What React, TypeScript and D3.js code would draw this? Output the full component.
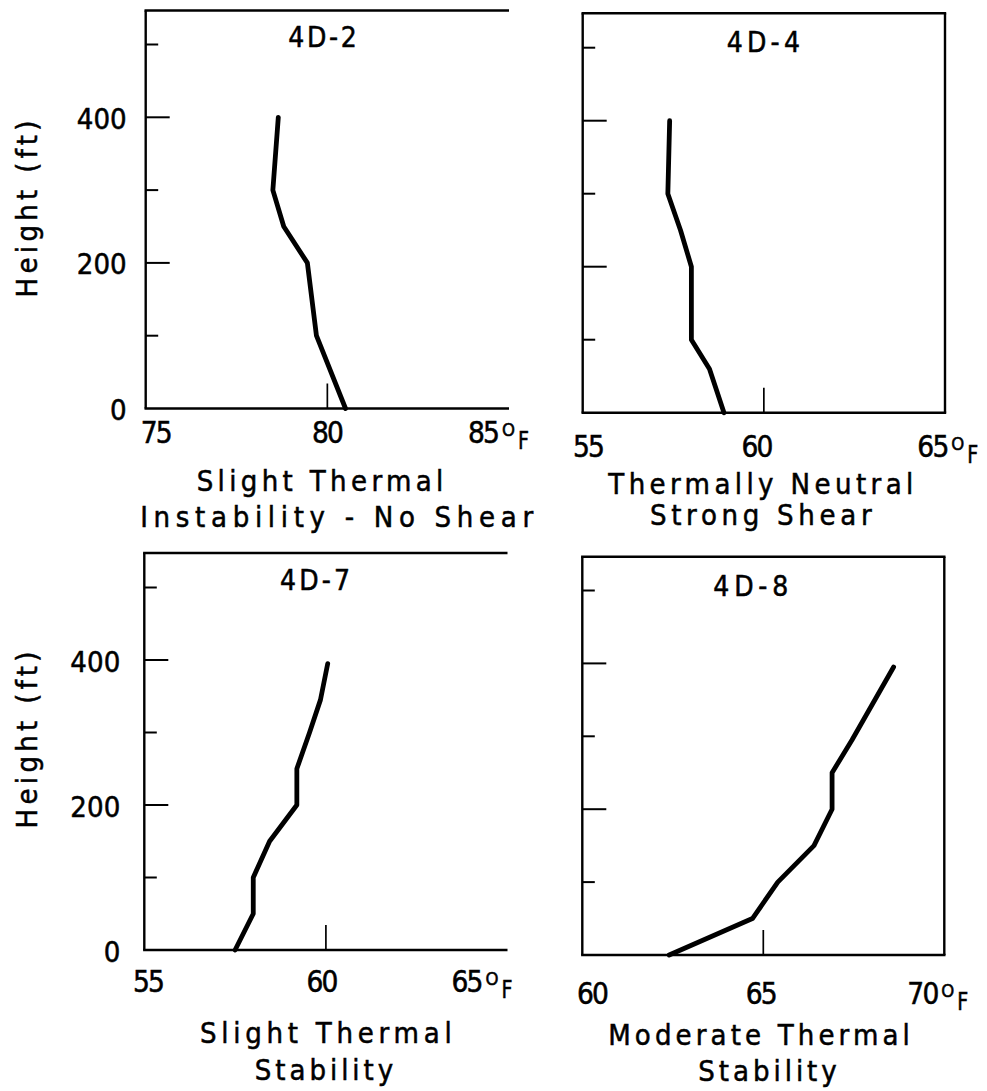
import React from 'react';
import * as d3 from 'd3';

// ---------- data ----------
const PANEL_TITLES = ['4D-2', '4D-4', '4D-7', '4D-8'];
const X_TICKS = [
  [75, 80, 85],
  [55, 60, 65],
  [55, 60, 65],
  [60, 65, 70],
];
const Y_MAJOR_TICKS = [200, 400];
const Y_MINOR_TICKS = [100, 300, 500];
const Y_LABEL_TICKS = [0, 200, 400];
const SUBTITLES = [
  ['Slight Thermal', 'Instability - No Shear'],
  ['Thermally Neutral', 'Strong Shear'],
  ['Slight Thermal', 'Stability'],
  ['Moderate Thermal', 'Stability'],
];
const Y_TITLE = 'Height (ft)';
const UNIT_SUP = 'O';
const UNIT = 'F';

const HEIGHT_4D2 = [0, 100, 200, 250, 300, 400];
const TEMP_4D2 = [80.5, 79.7, 79.45, 78.8, 78.5, 78.65];

const HEIGHT_4D4 = [0, 60, 100, 200, 250, 300, 400];
const TEMP_4D4 = [58.9, 58.5, 58.0, 58.0, 57.7, 57.35, 57.4];

const HEIGHT_4D7 = [0, 50, 100, 150, 180, 200, 250, 300, 345, 395];
const TEMP_4D7 = [57.5, 58.0, 58.0, 58.45, 58.9, 59.2, 59.2, 59.55, 59.85, 60.05];

const HEIGHT_4D8 = [0, 50, 100, 150, 200, 250, 295, 395];
const TEMP_4D8 = [62.4, 64.7, 65.4, 66.4, 66.9, 66.9, 67.45, 68.6];

const SERIES = [
  { h: HEIGHT_4D2, t: TEMP_4D2 },
  { h: HEIGHT_4D4, t: TEMP_4D4 },
  { h: HEIGHT_4D7, t: TEMP_4D7 },
  { h: HEIGHT_4D8, t: TEMP_4D8 },
];

// ---------- layout ----------
const LAYOUT = [
  {
    left: 145.7, right: 509, top: 10.5, bottom: 408.5, y500: 44.5, border: false,
    showY: true, yLabelGap: 19, hCenter: 209,
    title: { x: 322.5, y: 46.7, w: 68.4 },
    tickY: 443, tickCx: [156.7, 328, 484],
    sub: [{ x: 320, y: 491, w: 246.7 }, { x: 336.7, y: 527, w: 393 }],
  },
  {
    left: 582.7, right: 945, top: 13.3, bottom: 412.7, y500: 47.7, border: true,
    showY: false, yLabelGap: 0, hCenter: 0,
    title: { x: 763.3, y: 51.7, w: 73.3 },
    tickY: 457, tickCx: [589, 757.5, 933.3],
    sub: [{ x: 760.8, y: 494, w: 305 }, { x: 760.8, y: 525, w: 221.7 }],
  },
  {
    left: 144.3, right: 507.5, top: 553, bottom: 950, y500: 587.5, border: false,
    showY: true, yLabelGap: 24, hCenter: 740,
    title: { x: 315, y: 590, w: 70 },
    tickY: 991.7, tickCx: [149, 322.5, 467.5],
    sub: [{ x: 325.8, y: 1043, w: 251.7 }, { x: 324, y: 1080, w: 138.3 }],
  },
  {
    left: 582.3, right: 944.3, top: 556.7, bottom: 955, y500: 590.5, border: true,
    showY: false, yLabelGap: 0, hCenter: 0,
    title: { x: 750.8, y: 596, w: 75 },
    tickY: 1004, tickCx: [593, 761.7, 923.3],
    sub: [{ x: 759, y: 1045, w: 301.7 }, { x: 767.5, y: 1081, w: 138.4 }],
  },
];

const FONT = "'Liberation Sans Narrow', 'DejaVu Sans Condensed', 'Roboto Condensed', 'Liberation Sans', sans-serif";
const TXT = { fontFamily: FONT, fill: '#000', stroke: '#000', strokeWidth: 0.5 } as const;

function Panel({ i }: { i: number }) {
  const L = LAYOUT[i];
  const xt = X_TICKS[i];
  const x = d3.scaleLinear().domain([xt[0], xt[2]]).range([L.left, L.right]);
  const y = d3.scaleLinear().domain([0, 500]).range([L.bottom, L.y500]);
  const s = SERIES[i];
  const pts: [number, number][] = s.h.map((h, k) => [s.t[k], h]);
  const line = d3
    .line<[number, number]>()
    .x((d) => x(d[0]))
    .y((d) => y(d[1]));

  const digitW = 32;
  const lastEnd = L.tickCx[2] + digitW / 2;

  return (
    <g>
      {/* frame */}
      <line x1={L.left} y1={L.top} x2={L.left} y2={L.bottom} stroke="#000" strokeWidth={2.4} />
      <line x1={L.left - 1.2} y1={L.top} x2={L.right + (L.border ? 1.2 : 0)} y2={L.top} stroke="#000" strokeWidth={2.4} />
      <line x1={L.left - 1.2} y1={L.bottom} x2={L.right + (L.border ? 1.2 : 0)} y2={L.bottom} stroke="#000" strokeWidth={2.4} />
      {L.border && (
        <line x1={L.right} y1={L.top} x2={L.right} y2={L.bottom} stroke="#000" strokeWidth={2.4} />
      )}
      {/* y ticks */}
      {Y_MAJOR_TICKS.map((v) => (
        <line key={'M' + v} x1={L.left} x2={L.left + 24} y1={y(v)} y2={y(v)} stroke="#000" strokeWidth={2} />
      ))}
      {Y_MINOR_TICKS.map((v) => (
        <line key={'m' + v} x1={L.left} x2={L.left + 12.5} y1={y(v)} y2={y(v)} stroke="#000" strokeWidth={2} />
      ))}
      {/* middle x tick */}
      <line x1={x(xt[1])} x2={x(xt[1])} y1={L.bottom} y2={L.bottom - 25} stroke="#000" strokeWidth={1.7} />
      {/* data */}
      <path d={line(pts) || ''} fill="none" stroke="#000" strokeWidth={4.8} strokeLinejoin="round" strokeLinecap="round" />
      {/* title */}
      <text x={L.title.x} y={L.title.y} textAnchor="middle" fontSize={28} textLength={L.title.w} lengthAdjust="spacing" {...TXT}>
        {PANEL_TITLES[i]}
      </text>
      {/* x tick labels */}
      {xt.map((v, k) => (
        <text key={'xt' + k} x={L.tickCx[k]} y={L.tickY} textAnchor="middle" fontSize={29.5} textLength={digitW} lengthAdjust="spacing" {...TXT}>
          {String(v)}
        </text>
      ))}
      <text x={lastEnd + 2} y={L.tickY - 7} fontSize={18.5} textLength={13} lengthAdjust="spacingAndGlyphs" {...TXT}>
        {UNIT_SUP}
      </text>
      <text x={lastEnd + 18} y={L.tickY + 6} fontSize={25} textLength={11} lengthAdjust="spacingAndGlyphs" {...TXT}>
        {UNIT}
      </text>
      {/* subtitles */}
      {SUBTITLES[i].map((t, k) => (
        <text key={'st' + k} x={L.sub[k].x} y={L.sub[k].y} textAnchor="middle" fontSize={29} textLength={L.sub[k].w} lengthAdjust="spacing" {...TXT}>
          {t}
        </text>
      ))}
      {/* y labels */}
      {L.showY &&
        Y_LABEL_TICKS.map((v) => (
          <text
            key={'yl' + v}
            x={L.left - L.yLabelGap}
            y={y(v) + 11.5}
            textAnchor="end"
            fontSize={29}
            textLength={v === 0 ? 13 : 50}
            lengthAdjust="spacing"
            {...TXT}
          >
            {String(v)}
          </text>
        ))}
      {L.showY && (
        <text
          transform={`translate(36.7, ${L.hCenter}) rotate(-90)`}
          textAnchor="middle"
          fontSize={29}
          textLength={177}
          lengthAdjust="spacing"
          {...TXT}
        >
          {Y_TITLE}
        </text>
      )}
    </g>
  );
}

export default function App() {
  return (
    <svg
      width={987}
      height={1091}
      viewBox="0 0 987 1091"
      style={{ position: 'absolute', left: 0, top: 0, background: '#fff' }}
    >
      <rect x={0} y={0} width={987} height={1091} fill="#fff" />
      {[0, 1, 2, 3].map((i) => (
        <Panel key={i} i={i} />
      ))}
    </svg>
  );
}
